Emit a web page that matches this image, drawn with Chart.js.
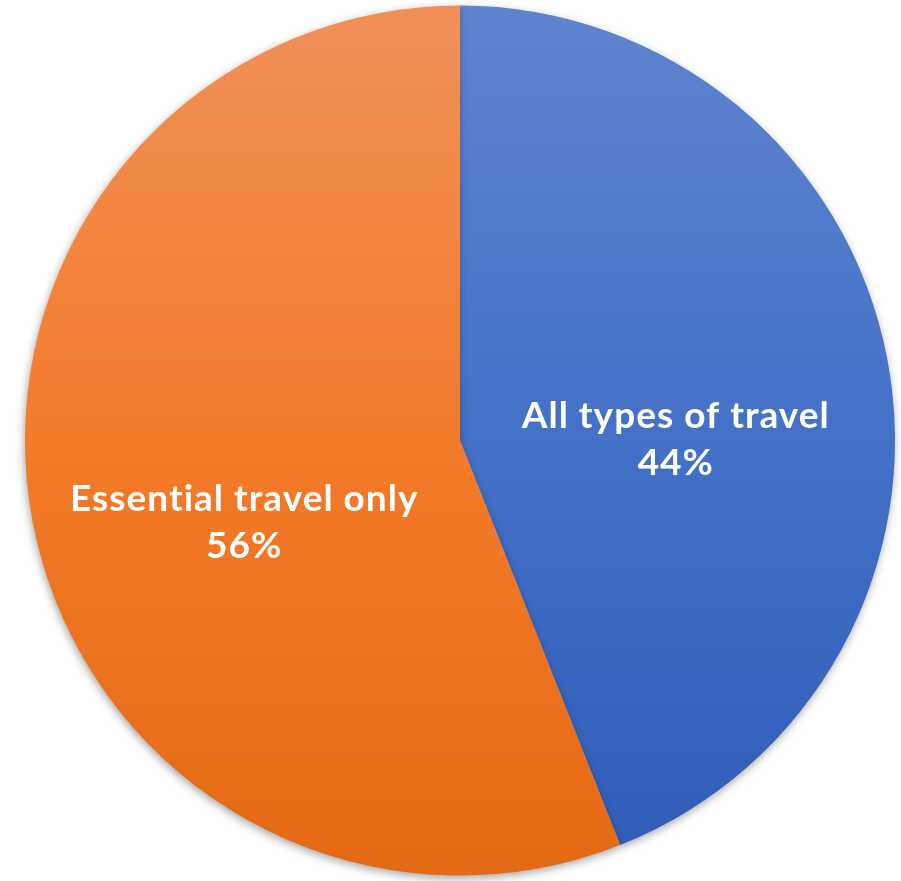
<!DOCTYPE html>
<html>
<head>
<meta charset="utf-8">
<script src="https://cdn.jsdelivr.net/npm/chart.js@4/dist/chart.umd.min.js"></script>
<style>
  html, body { margin: 0; padding: 0; background: #fff; }
  #wrap { width: 901px; height: 881px; }
</style>
</head>
<body>
<div id="wrap"><canvas id="chart"></canvas></div>
<script>
var labels = ["All types of travel", "Essential travel only"];
var values = [44, 56];
var colorStops = [
    ["#5F84CE", "#4371C7", "#2E5CB8"],
    ["#F0905A", "#F47B2A", "#E36914"]
];

// vertical gradient across the pie, lighter on top
function sliceFill(context) {
    var chart = context.chart;
    var area = chart.chartArea;
    if (!area) return colorStops[context.dataIndex][1];
    var stops = colorStops[context.dataIndex];
    var g = chart.ctx.createLinearGradient(0, area.top, 0, area.bottom);
    g.addColorStop(0, stops[0]);
    g.addColorStop(0.5, stops[1]);
    g.addColorStop(1, stops[2]);
    return g;
}

var shadowPlugin = {
    id: 'shadow',
    beforeDatasetDraw: function (chart) {
        var ctx = chart.ctx;
        ctx.save();
        ctx.shadowColor = 'rgba(0,0,0,0.35)';
        ctx.shadowBlur = 9;
        ctx.shadowOffsetX = -1;
        ctx.shadowOffsetY = 3;
    },
    afterDatasetDraw: function (chart) {
        chart.ctx.restore();
    }
};

var labelPlugin = {
    id: 'sliceLabels',
    afterDatasetsDraw: function (chart) {
        var ctx = chart.ctx;
        var meta = chart.getDatasetMeta(0);
        var total = values.reduce(function (a, b) { return a + b; }, 0);
        ctx.save();
        ctx.fillStyle = '#ffffff';
        ctx.textAlign = 'center';
        ctx.textBaseline = 'middle';
        ctx.font = 'bold 37px Lato, "DejaVu Sans", sans-serif';
        ctx.letterSpacing = '1px';
        meta.data.forEach(function (arc, i) {
            var mid = (arc.startAngle + arc.endAngle) / 2;
            var r = arc.outerRadius * 0.505;
            var x = arc.x + Math.cos(mid) * r;
            var y = arc.y + Math.sin(mid) * r + 40;
            ctx.fillText(labels[i], x, y - 23);
            ctx.fillText(Math.round(values[i] / total * 100) + '%', x, y + 24);
        });
        ctx.restore();
    }
};

var ctx = document.getElementById('chart');

var chart = new Chart(ctx, {
    type: 'pie',
    data: {
        labels: labels,
        datasets: [{
            data: values,
            backgroundColor: sliceFill,
            borderWidth: 0
        }]
    },
    options: {
        responsive: true,
        maintainAspectRatio: false,
        animation: false,
        layout: { padding: { top: 5, bottom: 5, left: 25, right: 6 } },
        plugins: {
            legend: { display: false },
            tooltip: { enabled: false }
        }
    },
    plugins: [shadowPlugin, labelPlugin]
});
</script>
</body>
</html>
